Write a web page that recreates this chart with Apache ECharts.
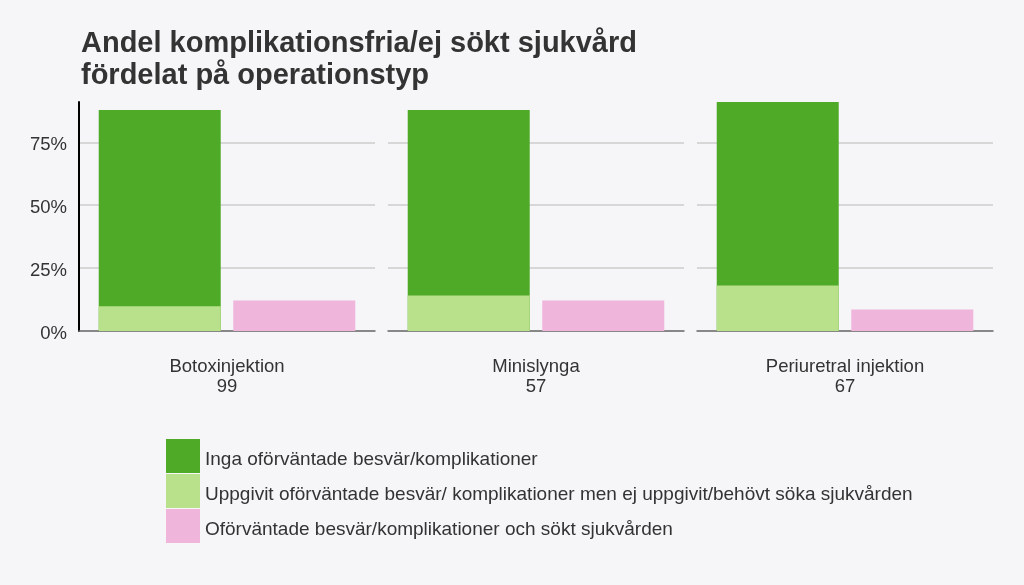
<!DOCTYPE html>
<html>
<head>
<meta charset="utf-8">
<script src="https://cdn.jsdelivr.net/npm/echarts@6/dist/echarts.min.js"></script>
<style>
html,body{margin:0;padding:0;background:#f6f5f8;}
#chart{width:1024px;height:585px;}
</style>
</head>
<body>
<div id="chart"></div>
<script>
// Data
const categories = ['Botoxinjektion', 'Minislynga', 'Periuretral injektion'];
const nValues = [99, 57, 67];
const seriesNames = [
  'Inga oförväntade besvär/komplikationer',
  'Uppgivit oförväntade besvär/ komplikationer men ej uppgivit/behövt söka sjukvården',
  'Oförväntade besvär/komplikationer och sökt sjukvården'
];
const ingaValues = [78.0, 73.7, 72.9];      // dark green part (on top of light green)
const uppgivitValues = [9.8, 14.1, 18.1];   // light green part (bottom)
const soktValues = [12.1, 12.1, 8.5];       // pink bar
const yTicks = [0, 25, 50, 75];

const colors = ['#4faa28', '#b9e08a', '#f0b5da'];
const font = 'Arial, "Liberation Sans", sans-serif';

const chart = echarts.init(document.getElementById('chart'));

const gridLefts = [79, 388, 697];
const gridWidth = 296;
const grids = [], xAxes = [], yAxes = [], series = [];
const gridColor = '#cccccc';

categories.forEach((cat, i) => {
  grids.push({left: gridLefts[i], width: gridWidth, top: 102, height: 229, containLabel: false});
  xAxes.push({
    type: 'value', gridIndex: i, min: 0.4, max: 2.6,
    axisLine: {show: true, onZero: false, lineStyle: {color: '#6e6e6e', width: 1.5}},
    axisTick: {show: false}, axisLabel: {show: false}, splitLine: {show: false},
    name: cat + '\n' + nValues[i], nameLocation: 'middle', nameGap: 26,
    nameTextStyle: {fontSize: 18.5, lineHeight: 20, color: '#333', fontFamily: font}
  });
  yAxes.push({
    type: 'value', gridIndex: i, min: 0, max: 91, interval: 25,
    axisLine: {show: i === 0, lineStyle: {color: '#000', width: 2}},
    axisTick: {show: false},
    axisLabel: {show: i === 0, fontSize: 18.5, color: '#333', fontFamily: font, margin: 12,
      formatter: v => yTicks.includes(v) ? '{a|' + v + '%}' : '',
      rich: {a: {fontSize: 18.5, color: '#333', fontFamily: font, padding: [6, 0, 0, 0]}}},
    splitLine: {show: true, lineStyle: {color: [gridColor, gridColor, gridColor, gridColor, 'rgba(0,0,0,0)'], width: 1.5}}
  });
  // dark green: cumulative top (light + dark), drawn first; light green overlays the bottom part
  series.push({
    name: seriesNames[0], type: 'bar', xAxisIndex: i, yAxisIndex: i,
    barWidth: 122, barGap: '-100%', itemStyle: {color: colors[0]},
    data: [[1, uppgivitValues[i] + ingaValues[i]]]
  });
  series.push({
    name: seriesNames[1], type: 'bar', xAxisIndex: i, yAxisIndex: i,
    barWidth: 122, barGap: '-100%', itemStyle: {color: colors[1]}, data: [[1, uppgivitValues[i]]]
  });
  series.push({
    name: seriesNames[2], type: 'bar', xAxisIndex: i, yAxisIndex: i,
    barWidth: 122, barGap: '-100%', itemStyle: {color: colors[2]}, data: [[2, soktValues[i]]]
  });
});

chart.setOption({
  backgroundColor: '#f6f5f8',
  animation: false,
  title: {
    text: 'Andel komplikationsfria/ej sökt sjukvård\nfördelat på operationstyp',
    left: 76, top: 23,
    textStyle: {fontSize: 29, fontWeight: 'bold', lineHeight: 32, color: '#333', fontFamily: font}
  },
  legend: {
    data: seriesNames, orient: 'vertical', left: 161, top: 434,
    itemWidth: 34, itemHeight: 34, itemGap: 1, icon: 'rect',
    formatter: name => '{a|' + name + '}',
    textStyle: {fontSize: 19, color: '#333', fontFamily: font,
      rich: {a: {fontSize: 19, color: '#333', fontFamily: font, padding: [8, 0, 0, 0]}}},
    selectedMode: false
  },
  grid: grids, xAxis: xAxes, yAxis: yAxes, series: series
});
</script>
</body>
</html>
